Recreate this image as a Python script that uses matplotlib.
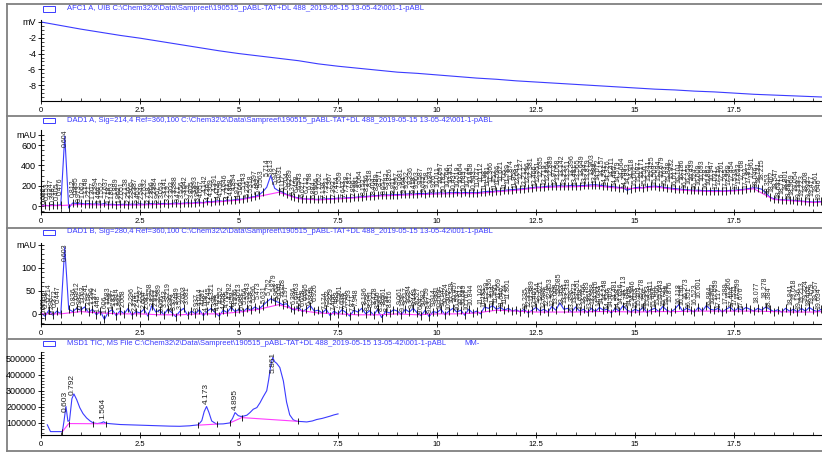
import numpy as np
import matplotlib
matplotlib.use('Agg')
import matplotlib.pyplot as plt
from matplotlib.patches import Rectangle
from matplotlib.lines import Line2D
from matplotlib.ticker import MultipleLocator, FuncFormatter

plt.rcParams['font.family'] = ['Liberation Sans', 'DejaVu Sans']

# ---------------- data ----------------
titles = [
    r"AFC1 A, UIB C:\Chem32\2\Data\Sampreet\190515_pABL-TAT+DL 488_2019-05-15 13-05-42\001-1-pABL",
    r"DAD1 A, Sig=214,4 Ref=360,100 C:\Chem32\2\Data\Sampreet\190515_pABL-TAT+DL 488_2019-05-15 13-05-42\001-1-pABL",
    r"DAD1 B, Sig=280,4 Ref=360,100 C:\Chem32\2\Data\Sampreet\190515_pABL-TAT+DL 488_2019-05-15 13-05-42\001-1-pABL",
    r"MSD1 TIC, MS File C:\Chem32\2\Data\Sampreet\190515_pABL-TAT+DL 488_2019-05-15 13-05-42\001-1-pABL",
]

# AFC1 A (mV)
afc_time = [0, 0.5, 1, 1.5, 2, 2.5, 3, 3.5, 4, 4.5, 5, 5.5, 6, 6.5, 7, 7.5, 8, 8.5, 9, 9.5,
            10, 10.5, 11, 11.5, 12, 12.5, 13, 13.5, 14, 14.5, 15, 15.5, 16, 16.5, 17, 17.5,
            18, 18.5, 19, 19.5, 19.75]
afc_mv = [0, -0.45, -0.9, -1.3, -1.7, -2.05, -2.45, -2.85, -3.25, -3.65, -4.0, -4.3, -4.6,
          -4.9, -5.3, -5.6, -5.85, -6.1, -6.35, -6.5, -6.7, -6.9, -7.1, -7.25, -7.45, -7.6,
          -7.75, -7.9, -8.05, -8.2, -8.35, -8.5, -8.6, -8.75, -8.85, -9.0, -9.15, -9.25,
          -9.35, -9.45, -9.5]

# DAD traces sampled every 0.1 min, 0.0 .. 19.7
dad_time = np.arange(198) * 0.1
dad_a = [5, 8, 3, 10, 6, 12, 690, -20, 30, 25,
         28, 20, 24, 18, 22, 16, 25, 14, 18, 12,
         15, 18, 12, 20, 15, 22, 16, 20, 24, 18,
         22, 26, 20, 25, 30, 24, 28, 32, 27, 34,
         38, 32, 45, 40, 48, 52, 46, 58, 55, 62,
         66, 70, 78, 85, 95, 108, 140, 185, 300, 175,
         150, 135, 115, 100, 88, 80, 72, 70, 68, 66,
         66, 68, 70, 72, 74, 78, 76, 80, 82, 85,
         88, 92, 95, 98, 100, 104, 106, 110, 108, 112,
         112, 115, 118, 120, 116, 122, 125, 120, 128, 126,
         128, 130, 125, 132, 130, 135, 128, 134, 130, 132,
         130, 136, 140, 145, 142, 150, 148, 155, 158, 160,
         164, 168, 172, 176, 180, 187, 185, 190, 195, 196,
         197, 200, 196, 198, 202, 197, 200, 204, 206, 208,
         210, 205, 200, 195, 192, 187, 182, 178, 155, 170,
         180, 185, 178, 190, 194, 197, 192, 186, 180, 176,
         172, 168, 165, 160, 158, 155, 156, 152, 150, 152,
         150, 152, 148, 150, 154, 155, 158, 162, 168, 175,
         180, 176, 165, 130, 89, 72, 66, 62, 60, 58,
         56, 52, 48, 45, 42, 39, 42, 45]
dad_b = [2, -5, 8, -3, 6, 0, 145, 10, 5, 12,
         8, 15, 3, 10, -2, 6, -12, 4, 9, -4,
         7, 0, 12, -3, 5, 2, 10, -5, 18, 4,
         8, -2, 10, 3, -6, 5, 12, -3, 6, 0,
         9, -4, 6, 12, 2, -5, 8, 3, 14, 5,
         10, 4, 12, 8, 15, 10, 18, 26, 33, 28,
         25, 20, 22, 12, 8, 14, 5, 10, 18, 6,
         8, 2, 10, -4, 6, 0, 9, 3, -5, 8,
         4, 12, 0, 7, -3, 10, -8, 5, 2, 9,
         6, -2, 10, 4, 12, 2, -4, 8, -6, 5,
         3, 10, -2, 6, 12, 4, 8, -3, 10, 2,
         6, 0, 15, 12, 18, 10, 14, 8, 12, 6,
         9, 4, 10, 2, 8, 14, 6, 10, 4, 16,
         8, 24, 10, 12, 4, 15, 6, 10, 3, 12,
         5, 14, 8, 10, 2, 12, 6, 18, 8, 4,
         10, 6, 14, 3, 9, 12, 5, 16, 8, 4,
         10, 20, 6, 12, 8, 4, 14, 6, 18, 10,
         8, 12, 4, 10, 15, 6, 12, 8, 14, 10,
         6, 12, 8, 15, 10, 5, 9, 4, 12, 6,
         10, 4, 12, 6, 14, 8, 5, 10]

base_time = [0, 0.5, 1, 1.5, 2, 2.5, 3, 3.5, 4, 4.5, 5, 5.5, 6, 6.5, 7, 7.5, 8, 8.5, 9, 9.5,
             10, 10.5, 11, 11.5, 12, 12.5, 13, 13.5, 14, 14.5, 15, 15.5, 16, 16.5, 17, 17.5,
             18, 18.5, 19, 19.5, 19.7]
dad_a_base = [2, 5, 15, 10, 8, 10, 16, 20, 28, 42, 58, 95, 135, 72, 60, 70, 82, 98, 105, 112,
              118, 122, 122, 140, 155, 178, 188, 190, 198, 178, 172, 188, 162, 148, 142, 148,
              170, 64, 50, 34, 38]
dad_b_base = [0, 0, 5, 2, 0, 0, -2, -2, 0, 0, 4, 10, 20, 8, 2, 0, -2, -2, 0, -2,
              0, 0, 2, 8, 6, 4, 4, 4, 5, 5, 4, 5, 5, 6, 6, 6, 6, 5, 4, 4, 5]

dad_a_peaks = """0.082 0.153 0.247 0.318 0.405 0.476 0.604 0.812 0.895 0.973 1.062 1.148 1.221 1.307
1.394 1.466 1.552 1.637 1.718 1.803 1.889 1.962 2.051 2.138 2.216 2.305 2.387 2.463 2.549 2.632
2.718 2.806 2.884 2.967 3.053 3.141 3.219 3.302 3.388 3.471 3.556 3.642 3.719 3.805 3.893 3.968
4.057 4.142 4.226 4.309 4.391 4.473 4.558 4.646 4.721 4.808 4.894 4.972 5.061 5.143 5.226 5.318
5.397 5.482 5.563 5.714 5.813 5.942 6.031 6.117 6.204 6.289 6.372 6.458 6.543 6.627 6.712 6.798
6.884 6.966 7.052 7.138 7.221 7.307 7.392 7.474 7.559 7.643 7.728 7.812 7.896 7.981 8.064 8.152
8.236 8.318 8.404 8.489 8.571 8.657 8.742 8.826 8.911 8.997 9.081 9.164 9.252 9.336 9.418 9.503
9.587 9.672 9.758 9.843 9.926 10.011 10.097 10.182 10.266 10.351 10.437 10.519 10.604 10.689
10.774 10.858 10.943 11.027 11.112 11.198 11.281 11.366 11.452 11.536 11.621 11.705 11.789
11.874 11.958 12.043 12.127 12.212 12.296 12.381 12.466 12.551 12.635 12.719 12.804 12.889
12.973 13.058 13.142 13.227 13.311 13.396 13.481 13.565 13.649 13.734 13.819 13.903 13.988
14.072 14.157 14.241 14.326 14.411 14.495 14.579 14.664 14.749 14.833 14.918 15.002 15.087
15.171 15.256 15.341 15.425 15.509 15.594 15.679 15.763 15.848 15.932 16.017 16.101 16.186
16.271 16.355 16.439 16.524 16.609 16.693 16.778 16.862 16.947 17.031 17.116 17.201 17.285
17.369 17.454 17.539 17.623 17.708 17.792 17.877 17.961 18.046 18.131 18.215 18.353 18.462
18.547 18.631 18.716 18.801 18.885 18.969 19.054 19.139 19.223 19.308 19.392 19.477 19.561
19.646""".split()

dad_b_peaks = """0.071 0.138 0.214 0.296 0.372 0.447 0.603 0.836 0.912 0.987 1.063 1.141 1.219 1.296
1.372 1.448 1.606 1.683 1.759 1.837 1.914 1.991 2.068 2.296 2.374 2.451 2.527 2.604 2.681 2.758
2.835 2.912 2.989 3.066 3.143 3.219 3.296 3.373 3.449 3.526 3.603 3.681 3.937 4.014 4.091 4.168
4.245 4.321 4.398 4.475 4.552 4.628 4.705 4.782 4.859 4.936 5.013 5.089 5.166 5.243 5.319 5.396
5.473 5.631 5.752 5.879 5.962 6.041 6.118 6.197 6.386 6.463 6.541 6.618 6.695 6.772 6.849 6.926
7.174 7.252 7.329 7.406 7.483 7.561 7.638 7.716 7.793 7.871 7.948 8.196 8.273 8.351 8.428 8.506
8.583 8.661 8.738 8.816 9.061 9.139 9.217 9.294 9.372 9.449 9.527 9.604 9.682 9.759 9.837 9.914
9.991 10.069 10.147 10.224 10.302 10.379 10.457 10.534 10.612 10.689 10.767 10.844 11.103
11.181 11.259 11.336 11.414 11.491 11.569 11.646 11.724 11.801 12.235 12.312 12.389 12.467
12.544 12.621 12.699 12.776 12.853 12.931 13.008 13.085 13.163 13.241 13.318 13.396 13.473
13.551 13.628 13.706 13.783 13.861 13.938 14.016 14.093 14.171 14.248 14.326 14.403 14.481
14.558 14.636 14.713 14.791 14.868 14.946 15.023 15.101 15.178 15.256 15.333 15.411 15.488
15.566 15.643 15.721 15.798 15.876 16.118 16.196 16.273 16.351 16.523 16.601 16.884 16.962
17.039 17.117 17.289 17.366 17.444 17.521 17.599 17.676 18.077 18.278 18.384 18.941 19.018
19.136 19.213 19.324 19.402 19.479 19.557 19.634""".split()

# MSD1 TIC
msd_time = [0.16, 0.24, 0.54, 0.58, 0.63, 0.68, 0.72, 0.78, 0.83, 0.90, 0.98, 1.06, 1.15,
            1.24, 1.32, 1.42, 1.52, 1.58, 1.64, 1.75, 2.0, 2.25, 2.5, 2.75, 3.0, 3.25, 3.5,
            3.75, 3.97, 4.06, 4.12, 4.18, 4.24, 4.31, 4.43, 4.6, 4.77, 4.84, 4.90, 4.98,
            5.05, 5.11, 5.2, 5.28, 5.36, 5.45, 5.53, 5.61, 5.70, 5.75, 5.80, 5.85, 5.90,
            5.95, 6.03, 6.12, 6.20, 6.28, 6.37, 6.46, 6.6, 6.71, 6.85, 6.96, 7.1, 7.2, 7.3,
            7.4, 7.5]
msd_tic = [88000, 46000, 46000, 110000, 202000, 110000, 115000, 250000, 280000, 245000,
           194000, 158000, 131000, 112000, 100000, 96000, 100000, 107000, 98000, 95000,
           90000, 88000, 86000, 84000, 82000, 80000, 79000, 82000, 88000, 114000, 170000,
           202000, 165000, 112000, 93000, 94000, 100000, 130000, 164000, 145000, 140000,
           142000, 148000, 165000, 185000, 195000, 225000, 262000, 300000, 370000, 455000,
           506000, 480000, 470000, 444000, 360000, 230000, 150000, 119000, 110000, 108000,
           106000, 112000, 121000, 128000, 135000, 142000, 150000, 156000]
msd_base_time = [0.54, 0.70, 1.32, 1.64, None, 3.97, 4.45, None, 4.78, 5.07, 6.48]
msd_base = [46000, 96000, 95000, 95000, None, 86000, 93000, None, 101000, 133000, 110000]
msd_peaks = ["0.603", "0.792", "1.564", "4.173", "4.895", "5.861"]

# ---------------- layout ----------------
W, H = 822, 453
BLUE = '#3b3bff'
MAG = '#ff3cff'
fig = plt.figure(figsize=(W / 100, H / 100), dpi=100)


def make_axes(top, bottom):
    ax = fig.add_axes([41 / W, 1 - bottom / H, 1 - 41 / W, (bottom - top) / H])
    ax.set_zorder(2)
    return ax


def style(ax, ylim, yticks, ylabels, yminor):
    ax.set_xlim(0, 19.72)
    ax.set_ylim(*ylim)
    ax.xaxis.set_major_locator(MultipleLocator(2.5))
    ax.xaxis.set_minor_locator(MultipleLocator(0.5))
    ax.xaxis.set_major_formatter(FuncFormatter(lambda v, p: f'{v:g}'))
    ax.set_yticks(yticks)
    ax.set_yticklabels(ylabels)
    ax.yaxis.set_minor_locator(MultipleLocator(yminor))
    for s in ['top', 'right']:
        ax.spines[s].set_visible(False)
    for s in ['left', 'bottom']:
        ax.spines[s].set_linewidth(0.8)
    ax.tick_params(which='major', direction='inout', length=5, width=0.6, pad=1.5)
    ax.tick_params(which='minor', direction='in', length=2.5, width=0.5)
    ax.tick_params(axis='x', labelsize=5.5)
    ax.tick_params(axis='y', labelsize=6.5, pad=1)


def peak_labels(ax, peaks, t, y, size, color, offsets):
    lo, hi = ax.get_ylim()
    for i, s in enumerate(peaks):
        rt = float(s)
        yv = np.interp(rt, t, y)
        if yv > lo + 0.7 * (hi - lo):
            ax.text(rt, hi, s, rotation=90, ha='center', va='top', fontsize=size,
                    color=color)
        else:
            ax.annotate(s, (rt, yv), xytext=(0, offsets[i % len(offsets)]),
                        textcoords='offset points', rotation=90, ha='center',
                        va='bottom', fontsize=size, color=color)


# frames, legend boxes and titles (behind the axes)
for y in [4, 116, 228, 339, 451]:
    fig.add_artist(Line2D([7 / W, 1], [1 - y / H] * 2, color='#808080', lw=1.3, zorder=0))
fig.add_artist(Line2D([7 / W] * 2, [1 - 4 / H, 1 - 451 / H], color='#808080', lw=1.3,
                      zorder=0))
for ty, title in zip([9, 120.5, 232, 343.5], titles):
    fig.add_artist(Rectangle((43 / W, 1 - (ty + 2.5) / H), 12 / W, 5 / H, fill=False,
                             ec=BLUE, lw=0.7, transform=fig.transFigure))
    fig.text(67 / W, 1 - ty / H, title, fontsize=5.5, color=BLUE, va='center', ha='left')
fig.text(464 / W, 1 - 343.5 / H, 'MM-', fontsize=5.5, color=BLUE, va='center', ha='left')

# panel 1: AFC1 A
ax1 = make_axes(20, 101)
ax1.plot(afc_time, afc_mv, color=BLUE, lw=0.8)
style(ax1, (-10.0, 0.25), [-8, -6, -4, -2, 0], ['-8', '-6', '-4', '-2', 'mV'], 0.5)

# panels 2 and 3: DAD signals
dad_panels = [
    ((130, 212), dad_a, dad_a_base, dad_a_peaks, (-59, 749),
     [0, 200, 400, 600, 700], ['0', '200', '400', '600', 'mAU'], 50, 45),
    ((243, 324), dad_b, dad_b_base, dad_b_peaks, (-22, 154),
     [0, 50, 100, 150], ['0', '50', '100', 'mAU'], 10, 20),
]
for (top, bot), sig, base, peaks, ylim, yt, yl, ymin, thr in dad_panels:
    ax = make_axes(top, bot)
    style(ax, ylim, yt, yl, ymin)
    sig = np.array(sig, dtype=float)
    ax.plot(dad_time, sig, color=BLUE, lw=0.8, zorder=2)
    ax.plot(base_time, base, color=MAG, lw=0.8, zorder=3)
    keep = (sig - np.interp(dad_time, base_time, base)) < thr
    ax.plot(dad_time[keep], sig[keep], ls='none', marker='|', ms=6, mew=0.6,
            color='black', zorder=4)
    peak_labels(ax, peaks, dad_time, sig, 5.0, '#2a2a2a', [1, 4, 7])

# panel 4: MSD1 TIC
ax4 = make_axes(352, 435)
style(ax4, (25000, 540000), [100000, 200000, 300000, 400000, 500000],
      ['100000', '200000', '300000', '400000', '500000'], 20000)
ax4.plot(msd_time, msd_tic, color=BLUE, lw=0.8)
bt = np.array(msd_base_time, dtype=float)
bv = np.array(msd_base, dtype=float)
ax4.plot(bt, bv, color=MAG, lw=0.8)
ax4.plot(bt, bv, ls='none', marker='|', ms=5, mew=0.6, color='black')
peak_labels(ax4, msd_peaks, msd_time, msd_tic, 6.0, '#222222', [2])

fig.savefig('out.png', dpi=100)
